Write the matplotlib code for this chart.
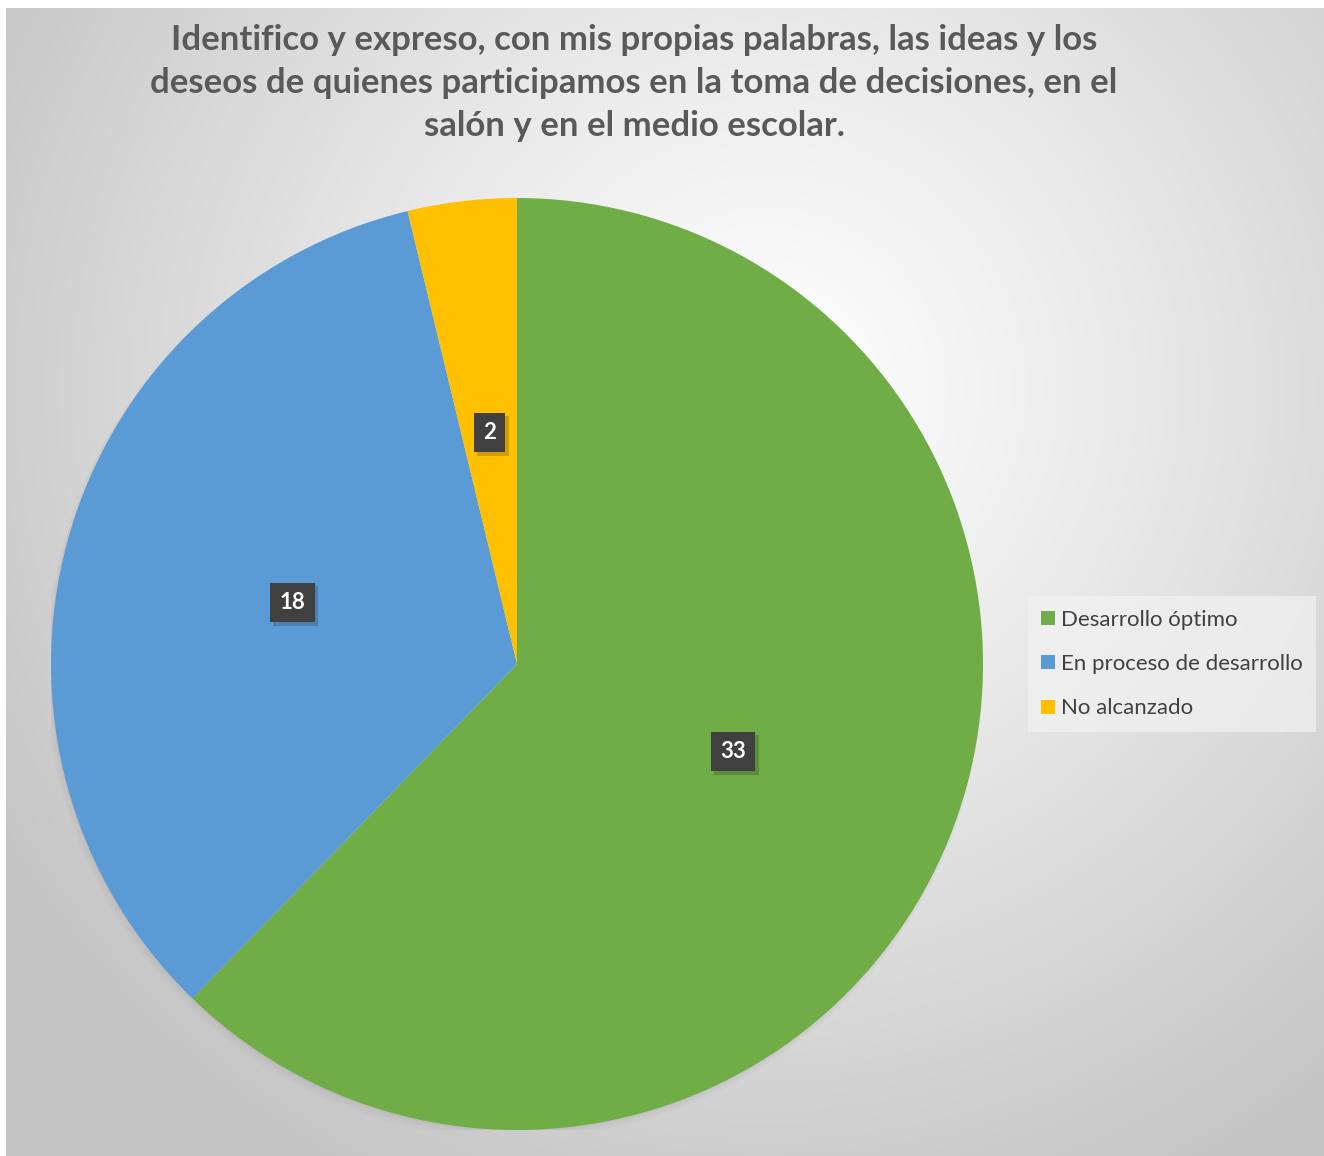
import numpy as np
import matplotlib
matplotlib.use("Agg")
import matplotlib.pyplot as plt
from matplotlib import patheffects as pe

categories = ["Desarrollo óptimo", "En proceso de desarrollo", "No alcanzado"]
values = [33, 18, 2]
colors = ["#70AD47", "#5B9BD5", "#FFC000"]
title = ("Identifico y expreso, con mis propias palabras, las ideas y los\n"
         "deseos de quienes participamos en la toma de decisiones, en el\n"
         "salón y en el medio escolar.")

W, H = 1324, 1156
fig = plt.figure(figsize=(W / 100, H / 100), dpi=100)
fig.patch.set_facecolor("white")

# background radial gradient
bx0, by0 = 6, 8
bg = fig.add_axes([bx0 / W, 0, 1 - bx0 / W, (H - by0) / H])
bg.set_axis_off()
bw, bh = W - bx0, H - by0
yy, xx = np.mgrid[0:bh, 0:bw]
cx, cy = 760, 380
d = np.sqrt((xx - cx) ** 2 + (yy - cy) ** 2) / 900.0
d = np.clip(d, 0, 1)
v = 1.0 - 0.23 * d ** 1.1
img = np.dstack([v, v, v])
bg.imshow(img, extent=[0, bw, bh, 0], aspect="auto", interpolation="bilinear")
bg.set_xlim(0, bw)
bg.set_ylim(bh, 0)

# pie
cxp, cyp, r = 517, 664, 466
ax = fig.add_axes([(cxp - r) / W, (H - cyp - r) / H, 2 * r / W, 2 * r / H])
ax.set_axis_off()

# soft shadow
for k, a in enumerate([0.03, 0.02, 0.015]):
    sh = plt.Circle((0.0 - 0.002 * (k + 1), -0.004 * (k + 1)), 1.0 + 0.003 * k,
                    color="black", alpha=a, lw=0, zorder=0)
    ax.add_patch(sh)

wedges, texts, autotexts = ax.pie(
    values, colors=colors, startangle=90, counterclock=False,
    radius=1.0, autopct=lambda p: "", pctdistance=0.5,
    wedgeprops=dict(linewidth=0, zorder=1))
for w, at, val in zip(wedges, autotexts, values):
    x, y = at.get_position()
    t = ax.text(x, y, str(val), ha="center", va="center", fontsize=16,
                fontweight="bold", color="white", family="Lato",
                bbox=dict(boxstyle="square,pad=0.42", fc="#404040", ec="none"),
                zorder=4)
    t.get_bbox_patch().set_path_effects(
        [pe.SimplePatchShadow(offset=(2.5, -2.5), shadow_rgbFace="black", alpha=0.18),
         pe.Normal()])
ax.set_xlim(-1, 1)
ax.set_ylim(-1, 1)

# title
fig.text(634 / W, 1 - 83 / H, title, ha="center", va="center", fontsize=25,
         fontweight="bold", color="#595959", family="Lato", linespacing=1.42)

# legend
leg = fig.legend(wedges, categories, loc="center left",
                 bbox_to_anchor=(1028 / W, 1 - 664 / H), frameon=True,
                 prop=dict(family="Lato", size=16),
                 handlelength=0.6, handleheight=0.6, handletextpad=0.3,
                 labelspacing=1.1, borderpad=0.6, borderaxespad=0.0,
                 fancybox=False, labelcolor="#404040")
leg.get_frame().set_facecolor("#f2f2f2")
leg.get_frame().set_alpha(0.7)
leg.get_frame().set_edgecolor("none")

fig.savefig("out.png", dpi=100)
